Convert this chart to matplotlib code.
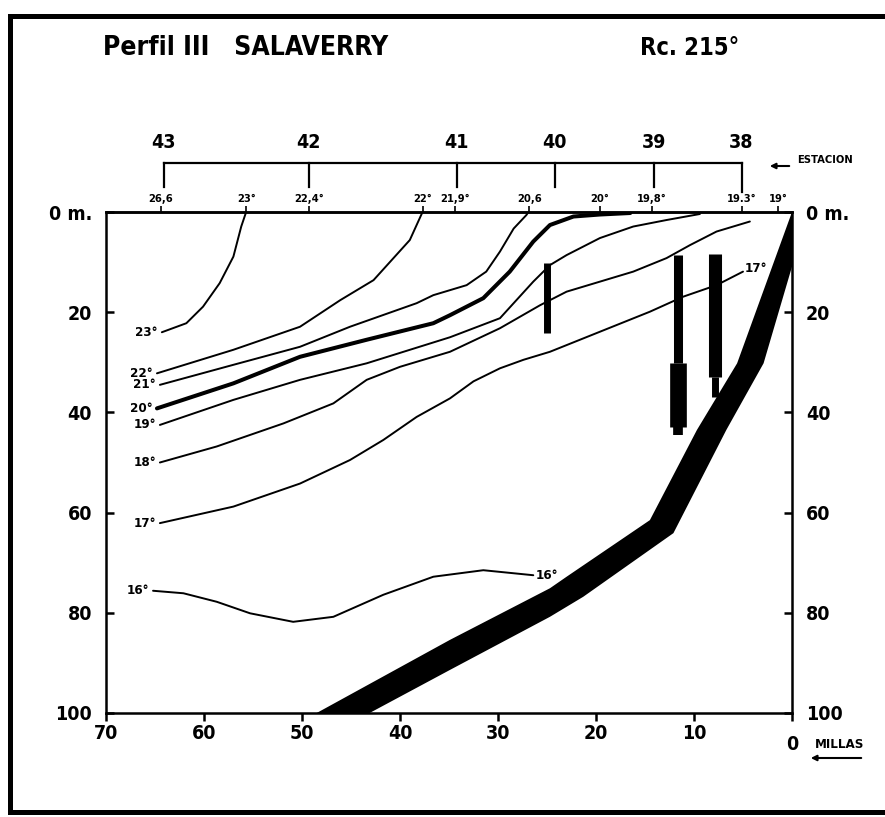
import matplotlib
matplotlib.use('Agg')
import matplotlib.pyplot as plt
from matplotlib.lines import Line2D

plt.rcParams['font.family'] = ['DejaVu Sans']
plt.rcParams['font.stretch'] = 'condensed'
plt.rcParams['font.weight'] = 'bold'

# isotermas: distancia a costa (millas), profundidad (m)
t23_x = [64.3, 61.8, 60.1, 58.4, 57.0, 56.2, 55.7]
t23_y = [24.0, 22.2, 18.9, 14.2, 8.9, 2.9, 0.0]
t22_x = [64.8, 57.0, 50.2, 46.1, 42.7, 39.0, 37.7]
t22_y = [32.2, 27.5, 22.9, 17.6, 13.6, 5.6, 0.0]
t21_x = [64.5, 57.0, 50.2, 45.1, 38.3, 36.6, 33.2, 31.2, 29.8, 28.4, 27.1, 26.9]
t21_y = [34.5, 30.5, 26.9, 22.9, 18.2, 16.6, 14.6, 11.9, 7.9, 3.3, 0.6, 0.0]
t20_x = [64.8, 57.0, 50.2, 43.4, 36.6, 34.9, 31.5, 28.8, 26.4, 24.7, 22.3, 19.6, 16.5]
t20_y = [39.2, 34.2, 28.9, 25.5, 22.2, 20.6, 17.2, 11.9, 5.9, 2.6, 0.9, 0.5, 0.2]
t19_x = [64.5, 57.0, 50.2, 43.4, 34.9, 29.8, 26.4, 24.7, 23.0, 19.6, 16.2, 12.8, 9.4]
t19_y = [42.5, 37.5, 33.5, 30.2, 25.0, 21.2, 13.9, 10.6, 8.6, 5.2, 2.9, 1.6, 0.4]
t18_x = [64.5, 58.7, 51.9, 46.8, 43.4, 40.0, 34.9, 29.8, 25.7, 23.0, 19.6, 16.2, 12.8, 10.4, 7.7, 4.3]
t18_y = [50.0, 46.8, 42.2, 38.2, 33.5, 30.9, 27.9, 23.2, 18.6, 15.9, 13.9, 11.9, 9.2, 6.6, 3.9, 1.9]
t17_x = [64.5, 57.0, 50.2, 45.1, 41.7, 38.3, 34.9, 32.5, 29.8, 27.4, 24.7, 19.6, 14.5, 11.1, 7.7, 5.0]
t17_y = [62.1, 58.8, 54.2, 49.5, 45.5, 40.9, 37.2, 33.8, 31.2, 29.5, 27.9, 23.9, 19.9, 16.9, 14.6, 11.9]
t16_x = [65.2, 62.1, 58.7, 55.3, 50.9, 46.8, 41.7, 36.6, 31.5, 26.4]
t16_y = [75.6, 76.1, 77.8, 80.1, 81.8, 80.8, 76.4, 72.8, 71.5, 72.5]

isotermas = [(t23_x, t23_y, '23°'), (t22_x, t22_y, '22°'), (t21_x, t21_y, '21°'),
             (t20_x, t20_y, '20°'), (t19_x, t19_y, '19°'), (t18_x, t18_y, '18°'),
             (t17_x, t17_y, '17°'), (t16_x, t16_y, '16°')]

# fondo (plataforma)
fondo_x = [48.5, 34.9, 24.7, 23.0, 14.5, 9.7, 5.6, 0.0, 0.0, 2.9, 6.7, 12.1, 21.3, 24.7, 34.9, 43.1]
fondo_y = [100, 85.4, 75.1, 72.8, 61.5, 43.5, 30.2, 0.0, 10.9, 30.2, 43.5, 64.1, 76.8, 80.8, 91.4, 100]

# barras verticales (millas, prof. inicio, prof. fin, ancho en pt)
barras = [(25.0, 10.2, 24.2, 5.0),
          (11.6, 8.6, 30.1, 6.5), (11.6, 30.1, 42.9, 12.0), (11.6, 42.9, 44.5, 7.0),
          (7.9, 8.4, 32.9, 9.4), (7.9, 32.9, 36.9, 5.0)]

# estaciones
est_x = [64.1, 49.3, 34.2, 24.2, 14.1, 5.15]
est_lbl = ['43', '42', '41', '40', '39', '38']

# temperatura superficial
sup_x = [64.4, 55.7, 49.3, 37.7, 34.4, 26.8, 19.6, 14.3, 5.1, 1.4]
sup_lbl = ['26,6', '23°', '22,4°', '22°', '21,9°', '20,6', '20°', '19,8°', '19.3°', '19°']

fig = plt.figure(figsize=(8.85, 8.17), dpi=100)
ax = fig.add_axes([106/885, 1-713/817, (792-106)/885, (713-212)/817])
ax.set_xlim(70, 0)
ax.set_ylim(100, 0)

for xs, ys, lbl in isotermas:
    lw = 2.9 if lbl == '20°' else 1.4
    ax.plot(xs, ys, color='black', lw=lw, solid_joinstyle='round', solid_capstyle='round')
    ax.text(xs[0] + 0.4, ys[0], lbl, ha='right', va='center', fontsize=9.5)
ax.text(t17_x[-1] - 0.2, t17_y[-1] - 0.6, '17°', ha='left', va='center', fontsize=9.5)
ax.text(t16_x[-1] - 0.2, t16_y[-1], '16°', ha='left', va='center', fontsize=9.5)

ax.fill(fondo_x, fondo_y, color='black', lw=0)

for bx, y0, y1, w in barras:
    ax.plot([bx, bx], [y0, y1], color='black', lw=w, solid_capstyle='butt')

# ejes
for s in ax.spines.values():
    s.set_linewidth(1.8)
ax.set_xticks([70, 60, 50, 40, 30, 20, 10, 0], ['70', '60', '50', '40', '30', '20', '10', ''])
ax.set_yticks([0, 20, 40, 60, 80, 100], ['0 m.', '20', '40', '60', '80', '100'])
ax.tick_params(axis='x', direction='out', length=6, width=1.8, pad=2, labelsize=14)
ax.tick_params(axis='y', direction='in', length=6, width=1.8, pad=10, labelsize=14,
               right=True, labelright=True)
fig.text(792/885, 1-745/817, '0', ha='center', va='center', fontsize=14)

sec = ax.secondary_xaxis('top')
sec.set_xticks(sup_x, sup_lbl)
sec.tick_params(direction='out', length=4, width=1.2, pad=2, labelsize=8)
sec.spines['top'].set_linewidth(1.8)

tr = ax.get_xaxis_transform()
ax.plot([est_x[0], est_x[-1]], [1.098, 1.098], transform=tr, clip_on=False, color='black', lw=1.6)
for i, (ex, el) in enumerate(zip(est_x, est_lbl)):
    bot = 1.04 if i == len(est_x) - 1 else 1.05
    ax.plot([ex, ex], [1.098, bot], transform=tr, clip_on=False, color='black', lw=1.6)
    ax.text(ex, 1.138, el, transform=tr, ha='center', va='center', fontsize=14)

fig.text(797/885, 1-160/817, 'ESTACION', ha='left', va='center', fontsize=8)
ax.annotate('', xy=(767/885, 1-166/817), xytext=(792/885, 1-166/817), xycoords='figure fraction',
            arrowprops=dict(arrowstyle='-|>', color='black', lw=1.5, mutation_scale=8))
fig.text(815/885, 1-745/817, 'MILLAS', ha='left', va='center', fontsize=9.5)
ax.annotate('', xy=(808/885, 1-758/817), xytext=(864/885, 1-758/817), xycoords='figure fraction',
            arrowprops=dict(arrowstyle='-|>', color='black', lw=1.5, mutation_scale=8))

fig.text(103/885, 1-48/817, 'Perfil III   SALAVERRY', ha='left', va='center', fontsize=19)
fig.text(640/885, 1-48/817, 'Rc. 215°', ha='left', va='center', fontsize=17)

# marco
fig.add_artist(Line2D([10/885, 1], [1-16/817, 1-16/817], color='black', lw=3.6))
fig.add_artist(Line2D([10/885, 10/885], [1-16/817, 1-812/817], color='black', lw=3.6))
fig.add_artist(Line2D([10/885, 1], [1-812/817, 1-812/817], color='black', lw=3.6))

fig.savefig('out.png', dpi=100)
